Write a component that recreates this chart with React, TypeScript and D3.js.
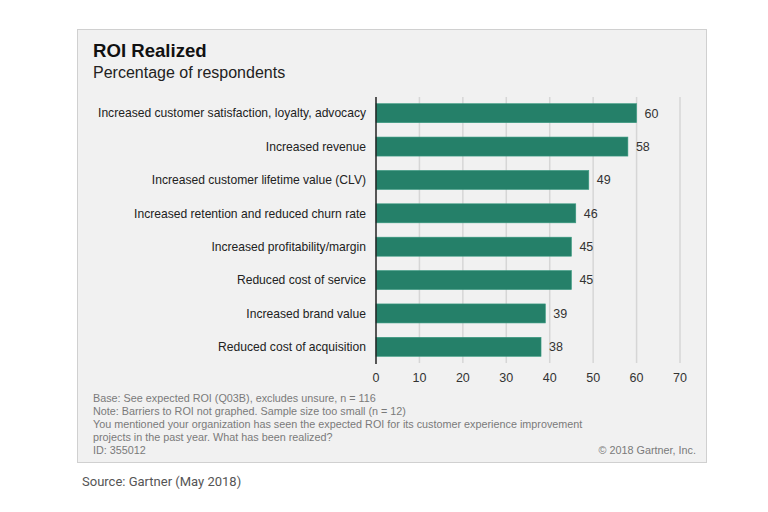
import React from "react";
import * as d3 from "d3";

const categories = [
  "Increased customer satisfaction, loyalty, advocacy",
  "Increased revenue",
  "Increased customer lifetime value (CLV)",
  "Increased retention and reduced churn rate",
  "Increased profitability/margin",
  "Reduced cost of service",
  "Increased brand value",
  "Reduced cost of acquisition",
];
const values = [60, 58, 49, 46, 45, 45, 39, 38];
const xTicks = [0, 10, 20, 30, 40, 50, 60, 70];
const title = "ROI Realized";
const subtitle = "Percentage of respondents";
const notes = [
  "Base: See expected ROI (Q03B), excludes unsure, n = 116",
  "Note: Barriers to ROI not graphed. Sample size too small (n = 12)",
  "You mentioned your organization has seen the expected ROI for its customer experience improvement",
  "projects in the past year. What has been realized?",
  "ID: 355012",
];
const copyright = "© 2018 Gartner, Inc.";
const source = "Source: Gartner (May 2018)";

export default function App() {
  const W = 768, H = 512;
  const x = d3.scaleLinear().domain([0, 70]).range([376, 680]);
  const y = d3.scaleBand<string>().domain(categories).range([97, 363]).paddingInner(0.43).paddingOuter(0.2);
  const font = "'Liberation Sans', Arial, sans-serif";
  return (
    <svg width={W} height={H} style={{ position: "absolute", left: 0, top: 0, display: "block" }} fontFamily={font}>
      <rect x={0} y={0} width={W} height={H} fill="#ffffff" />
      <rect x={77.5} y={29.5} width={629} height={433} fill="#f1f1f1" stroke="#d0d0d0" strokeWidth={1} />
      <text x={93} y={57} fontSize={18.6} fontWeight="bold" fill="#111">{title}</text>
      <text x={93} y={77.5} fontSize={16} fill="#222">{subtitle}</text>
      {xTicks.slice(1).map((t) => (
        <line key={t} x1={x(t)} x2={x(t)} y1={97} y2={363} stroke="#d6d6d6" strokeWidth={1.5} />
      ))}
      {categories.map((c, i) => (
        <g key={c}>
          <rect x={x(0)} y={y(c)!} width={x(values[i]) - x(0)} height={y.bandwidth()} fill="#258069" stroke="#3a9a80" strokeWidth={0.6} />
          <text x={x(values[i]) + 8} y={y(c)! + y.bandwidth() / 2} dy="0.35em" fontSize={12.5} fill="#333">{values[i]}</text>
          <text x={366} y={y(c)! + y.bandwidth() / 2} dy="0.35em" fontSize={12.1} fill="#222" textAnchor="end">{c}</text>
        </g>
      ))}
      <line x1={x(0)} x2={x(0)} y1={97} y2={364} stroke="#222" strokeWidth={1.5} />
      {xTicks.map((t) => (
        <text key={t} x={x(t)} y={378} dy="0.35em" fontSize={12.5} fill="#333" textAnchor="middle">{t}</text>
      ))}
      {notes.map((n, i) => (
        <text key={i} x={93} y={401.5 + i * 13.2} fontSize={10.8} fill="#7a7a7a">{n}</text>
      ))}
      <text x={696} y={454.3} fontSize={10.8} fill="#7a7a7a" textAnchor="end">{copyright}</text>
      <text x={82} y={486} fontSize={13} fill="#555" fontFamily="Roboto, 'Liberation Sans', sans-serif">{source}</text>
    </svg>
  );
}
